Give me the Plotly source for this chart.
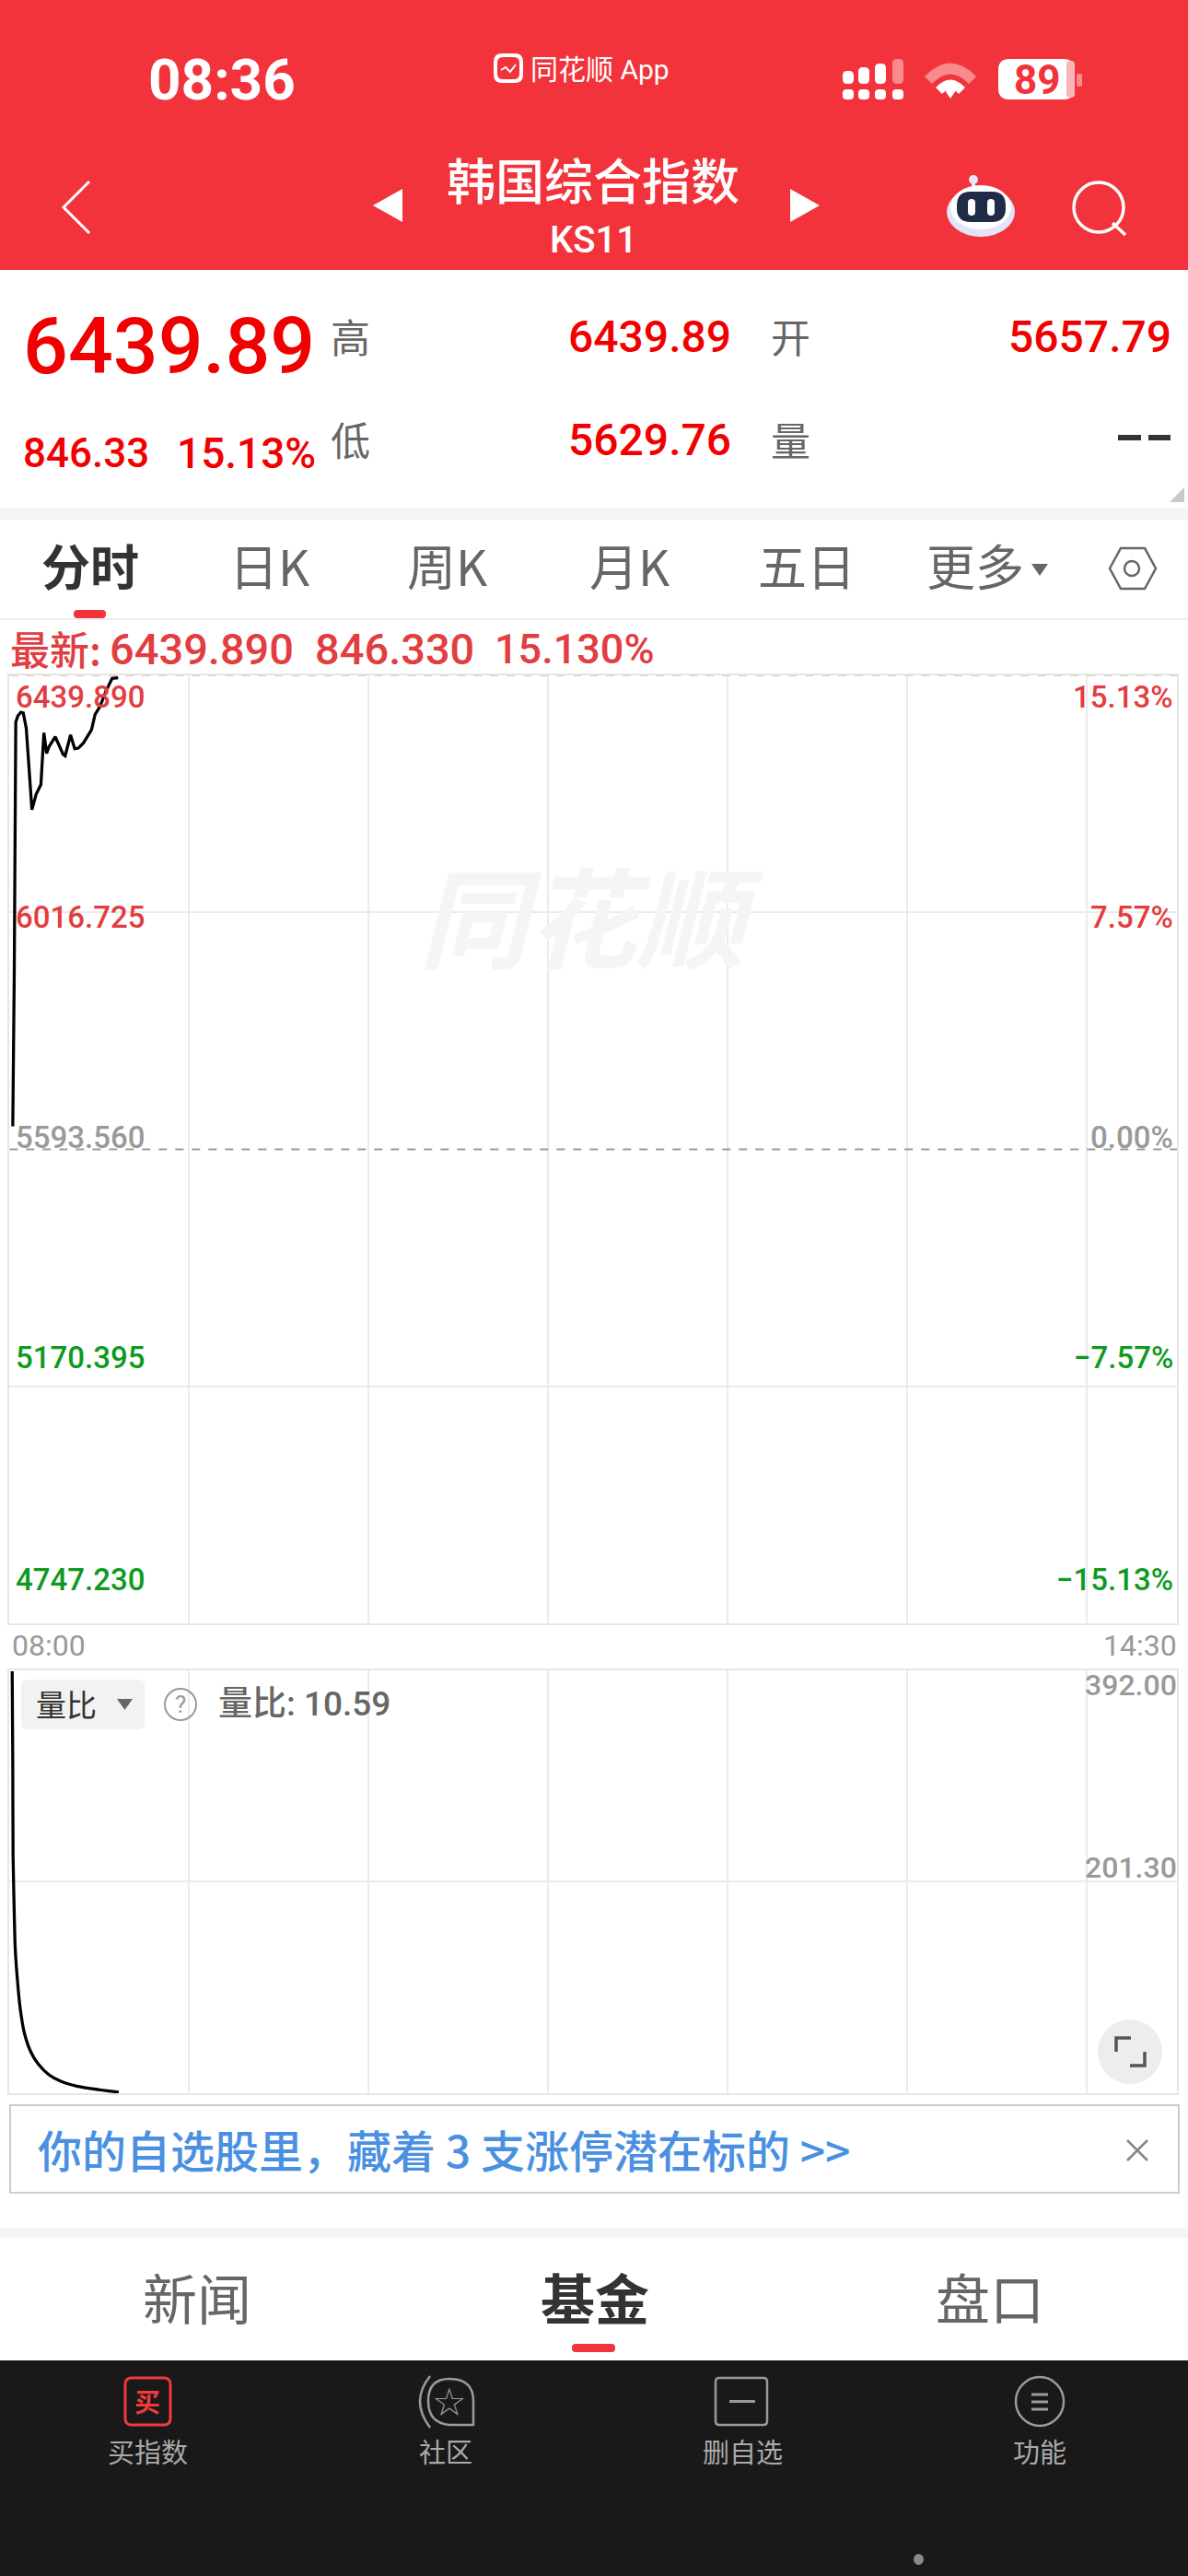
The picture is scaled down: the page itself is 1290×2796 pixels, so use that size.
import plotly.graph_objects as go

# ---- chart data ----
minute_price = [1.1, 1.6, 2.1, 2.8, 3.8, 4.6, 5.6, 6.6, 7.5, 8.9, 10.5, 11.5, 12.4, 13.2, 15.3, 17.9, 18.6, 20.4, 21.8, 23.0, 24.7, 27.4, 28.6, 30.2, 32.2, 34.3, 36.3]
price = [5634.7, 5911.9, 6356.5, 6367.4, 6374.0, 6372.9, 6345.5, 6274.1, 6200.0, 6227.5, 6245.0, 6337.2, 6300.5, 6312.5, 6330.1, 6298.8, 6296.0, 6333.4, 6308.7, 6309.8, 6319.1, 6342.7, 6370.2, 6383.9, 6411.4, 6434.4, 6435.5]
minute_ratio = [0.9, 1.1, 1.2, 1.5, 1.9, 2.6, 3.6, 5.0, 7.1, 9.6, 13.2, 17.3, 22.5, 29.7, 36.5]
ratio = [391.2, 308.1, 225.0, 183.6, 142.0, 114.4, 86.7, 64.6, 48.0, 36.9, 27.2, 21.1, 17.0, 13.9, 11.5]

price_ticks = [6439.89, 6016.725, 5593.56, 5170.395, 4747.23]
price_labels = ["6439.890", "6016.725", "5593.560", "5170.395", "4747.230"]
pct_labels = ["15.13%", "7.57%", "0.00%", "−7.57%", "−15.13%"]
ratio_ticks = [392.00, 201.30]
ratio_labels = ["392.00", "201.30"]
hour_grid = [60, 120, 180, 240, 300, 360]
time_labels = ["08:00", "14:30"]

RED = "#F2333C"
PRICE_RED = "#F00000"
TICK_RED = "#E23D40"
GREEN = "#0E9A1E"
GRAY = "#999999"
GRID = "#EBEBEB"
ROB = "Roboto, 'Noto Sans CJK SC', sans-serif"
CJK = "'Noto Sans CJK SC', sans-serif"

W, H = 1290, 2796
L, R = 10.3, 1278
M_T, M_B = 733, 1762
V_T, V_B = 1813, 2272

fig = go.Figure()
fig.add_trace(go.Scatter(x=minute_price, y=price, mode="lines", line=dict(color="#000000", width=3.3), xaxis="x", yaxis="y", hoverinfo="skip", showlegend=False))
fig.add_trace(go.Scatter(x=minute_ratio, y=ratio, mode="lines", line=dict(color="#000000", width=3.3, shape="spline", smoothing=0.6), xaxis="x2", yaxis="y2", hoverinfo="skip", showlegend=False))
fig.add_trace(go.Scatter(x=[0], y=[0], mode="none", xaxis="x3", yaxis="y3", hoverinfo="skip", showlegend=False))

common_x = dict(range=[0, 390], tickvals=hour_grid, showticklabels=False, showgrid=True, gridcolor=GRID, gridwidth=2, zeroline=False,
                showline=True, mirror=True, linecolor="#E6E6E6", linewidth=2, ticks="", fixedrange=True)
common_y = dict(showticklabels=False, showgrid=True, gridcolor=GRID, gridwidth=2, zeroline=False,
                showline=True, mirror=True, linecolor="#E6E6E6", linewidth=2, ticks="", fixedrange=True)

shapes, ann = [], []


def S(kind, x0, y0, x1, y1, fill=None, line=None, lw=0, layer="above"):
    shapes.append(dict(type=kind, xref="x3", yref="y3", x0=x0, y0=y0, x1=x1, y1=y1, fillcolor=fill,
                       line=dict(color=line or "rgba(0,0,0,0)", width=lw), layer=layer))


def P(path, fill=None, line=None, lw=0, layer="above"):
    shapes.append(dict(type="path", xref="x3", yref="y3", path=path, fillcolor=fill,
                       line=dict(color=line or "rgba(0,0,0,0)", width=lw), layer=layer))


def RR(x0, y0, x1, y1, r, fill=None, line=None, lw=0):
    P(f"M{x0+r},{y0} L{x1-r},{y0} Q{x1},{y0} {x1},{y0+r} L{x1},{y1-r} Q{x1},{y1} {x1-r},{y1} "
      f"L{x0+r},{y1} Q{x0},{y1} {x0},{y1-r} L{x0},{y0+r} Q{x0},{y0} {x0+r},{y0} Z", fill, line, lw)


def T(x, y, text, size, color, anchor="center", font=ROB, weight=400, italic=False):
    ann.append(dict(xref="x3", yref="y3", x=x, y=y, text=text, showarrow=False, xanchor=anchor, yanchor="middle", borderpad=0,
                    font=dict(size=size, color=color, family=font, weight=weight, style="italic" if italic else "normal")))


# header
S("rect", 0, 0, W, 293, RED, layer="below")
T(241, 86, "08:36", 62, "#FFFFFF", weight=700)
RR(536, 58, 568, 90, 9, "#FFFFFF")
RR(540, 62, 564, 86, 6, RED)
P("M544,76 L549,73 L554,78 L560,70", None, "#FFFFFF", 2)
T(575, 75, "同花顺 App", 30, "#FFFFFF", "left")
# signal
for cx, top, col in [(921, 77, "#FFFFFF"), (938, 73, "#FFFFFF"), (956, 69, "#FFFFFF"), (975, 64, "#F98A8E")]:
    RR(cx - 6, top, cx + 6, 91, 5, col)
for cx in [921, 938, 956, 975]:
    RR(cx - 6, 97, cx + 6, 108, 4, "#FFFFFF")
# wifi
P("M1004,83 Q1032,54 1060,83 L1052,91 Q1032,70 1012,91 Z", "#F98A8E")
P("M1016,95 Q1032,78 1048,95 L1041,102 Q1032,92 1023,102 Z", "#FFFFFF")
P("M1026,98 Q1032,93 1038,98 L1032,107 Z", "#FFFFFF")
# battery
RR(1084, 64, 1167, 108, 12, "#FFFFFF")
RR(1158, 66, 1167, 106, 4, "#F9B5B8")
RR(1169, 80, 1175, 94, 2, "#F98A8E")
T(1126, 87, "89", 44, RED, weight=700)
# nav
P("M97,197 L69,225 L97,253", None, "#FFFFFF", 3)
P("M405,223 L437,205 L437,241 Z", "#FFFFFF")
P("M890,223 L858,205 L858,241 Z", "#FFFFFF")
T(644, 194, "韩国综合指数", 53, "#FFFFFF", font=CJK, weight=500)
T(644, 260, "KS11", 40, "#FFFFFF", weight=500)
S("circle", 1052, 190, 1062, 200, "#E8E6F8")
S("rect", 1055, 198, 1059, 206, "#E8E6F8")
S("circle", 1028, 203, 1102, 257, "#E4E3F8")
S("circle", 1032, 201, 1098, 249, "#FFFFFF")
RR(1039, 208, 1092, 241, 15, "#1F2B47")
RR(1051, 216, 1059, 234, 4, "#FFFFFF")
RR(1072, 216, 1080, 234, 4, "#FFFFFF")
S("circle", 1166, 198, 1220, 252, None, "#FFFFFF", 3.5)
P("M1208,242 L1222,255", None, "#FFFFFF", 3.5)

# quote panel
T(24, 375, "6439.89", 86, PRICE_RED, "left", weight=500)
T(24, 492, "846.33", 44, PRICE_RED, "left", weight=500)
T(191, 492, "15.13%", 46, PRICE_RED, "left", weight=500)
for x, y, s in [(380, 364, "高"), (380, 476, "低"), (858, 364, "开"), (858, 476, "量")]:
    T(x, y, s, 43, "#666666", font=CJK)
T(795, 365, "6439.89", 48, PRICE_RED, "right", weight=500)
T(795, 477, "5629.76", 48, PRICE_RED, "right", weight=500)
T(1273, 365, "5657.79", 48, PRICE_RED, "right", weight=500)
S("rect", 1214, 472, 1239, 478, "#333333")
S("rect", 1247, 472, 1271, 478, "#333333")
P("M1270,545 L1286,545 L1286,529 Z", "#C8C8C8")
S("rect", 0, 551, W, 564, "#F5F5F5", layer="below")

# period tabs
T(98, 613, "分时", 53, "#333333", font=CJK, weight=700)
for x, s in [(293, "日K"), (486, "周K"), (684, "月K"), (876, "五日"), (1059, "更多")]:
    T(x, 613, s, 53, "#666666", font=CJK)
P("M1120,612 L1138,612 L1129,625 Z", "#666666")
P("M1205,617 L1217,595 L1243,595 L1255,617 L1243,639 L1217,639 Z", None, "#666666", 2.5)
S("circle", 1221, 609, 1237, 625, None, "#666666", 2.5)
RR(80, 662, 115, 671, 4, "#F2333C")
S("rect", 0, 671, W, 673, "#EDEDED", layer="below")

# latest line
T(10, 703, "最新:", 43, TICK_RED, "left", font=CJK, weight=500)
T(118, 704, "6439.890", 47, TICK_RED, "left", weight=500)
T(341, 704, "846.330", 47, TICK_RED, "left", weight=500)
T(536, 704, "15.130%", 45, TICK_RED, "left", weight=500)

# watermark
T(642, 990, "同花顺", 118, "#F5F5F5", font=CJK, weight=700, italic=True)

# price tick labels, anchored to their axis values
label_shift = [-23, -5, 13, 31, 48]
tick_cols = [TICK_RED, TICK_RED, GRAY, GREEN, GREEN]
for v, a, b, c, dy in zip(price_ticks, price_labels, pct_labels, tick_cols, label_shift):
    ann.append(dict(xref="paper", yref="y", x=15 / W, y=v, yshift=dy, text=a, showarrow=False, xanchor="left", yanchor="middle",
                    font=dict(size=33, color=c, family=ROB, weight=500)))
    ann.append(dict(xref="paper", yref="y", x=1276 / W, y=v, yshift=dy, text=b, showarrow=False, xanchor="right", yanchor="middle",
                    font=dict(size=33, color=c, family=ROB, weight=500)))
shapes.append(dict(type="line", xref="x", yref="y", x0=0, x1=390, y0=price_ticks[0], y1=price_ticks[0], line=dict(color="#D9CDB8", width=2, dash="dash"), layer="above"))
shapes.append(dict(type="line", xref="x", yref="y", x0=0, x1=390, y0=price_ticks[2], y1=price_ticks[2], line=dict(color="#9A9A9A", width=2, dash="dash"), layer="above"))

T(12, 1786, time_labels[0], 32, GRAY, "left")
T(1279, 1786, time_labels[1], 32, GRAY, "right")
for v, s, dy in zip(ratio_ticks, ratio_labels, [-16, 15]):
    ann.append(dict(xref="paper", yref="y2", x=1280 / W, y=v, yshift=dy, text=s, showarrow=False, xanchor="right", yanchor="middle",
                    font=dict(size=32, color=GRAY, family=ROB, weight=500)))

# ratio controls
RR(23, 1823, 157, 1877, 7, "#F2F2F2")
T(72, 1849, "量比", 33, "#333333", font=CJK)
P("M127,1844 L144,1844 L135.5,1856 Z", "#666666")
S("circle", 179, 1833, 213, 1867, None, "#999999", 2)
T(196, 1850, "?", 26, "#999999")
T(236, 1849, "量比: 10.59", 37, "#666666", "left", weight=500)
S("circle", 1192, 2192, 1262, 2262, "#EDEDED")
P("M1212,2227 L1212,2212 L1228,2212", None, "#555555", 3.5)
P("M1243,2227 L1243,2242 L1227,2242", None, "#555555", 3.5)

# banner
S("rect", 11, 2285, 1280, 2380, "#FFFFFF", "#BDBDBD", 1.5)
T(40, 2332, "你的自选股里，藏着 3 支涨停潜在标的 >>", 48, "#4A90E2", "left", font=CJK, weight=500)
P("M1224,2323 L1246,2345 M1246,2323 L1224,2345", None, "#888888", 2.5)
S("rect", 0, 2418, W, 2429, "#F5F5F5", layer="below")

# lower tabs
T(214, 2492, "新闻", 59, "#666666", font=CJK)
T(646, 2492, "基金", 59, "#333333", font=CJK, weight=700)
T(1075, 2492, "盘口", 59, "#666666", font=CJK)
RR(621, 2544, 668, 2553, 4, "#F2333C")

# footer
S("rect", 0, 2562, W, H, "#191919")
RR(136, 2581, 185, 2632, 7, None, "#F03A3E", 3)
T(160, 2606, "买", 28, "#F03A3E", font=CJK, weight=700)
T(160, 2660, "买指数", 29, "#AAAAAA", font=CJK)
P("M467,2579 Q445,2606 467,2635", None, "#9A9A9A", 2.5)
P("M514,2632 L488,2632 Q465,2630 465,2606 Q465,2582 488,2582 Q514,2582 514,2606 Z", None, "#9A9A9A", 2.5)
T(488, 2607, "☆", 42, "#9A9A9A", font="'DejaVu Sans'")
T(484, 2660, "社区", 29, "#AAAAAA", font=CJK)
RR(777, 2581, 833, 2632, 4, None, "#9A9A9A", 2.5)
S("rect", 792, 2605, 820, 2608, "#9A9A9A")
T(806, 2660, "删自选", 29, "#AAAAAA", font=CJK)
S("circle", 1103, 2580, 1155, 2633, None, "#9A9A9A", 2.5)
for y in [2599, 2607, 2615]:
    S("rect", 1120, y - 1.5, 1138, y + 1.5, "#9A9A9A")
T(1129, 2660, "功能", 29, "#AAAAAA", font=CJK)
S("circle", 992, 2772, 1003, 2784, "#8A8A8A")

fig.update_layout(
    width=W, height=H, autosize=False, margin=dict(l=0, r=0, t=0, b=0), paper_bgcolor="#FFFFFF", plot_bgcolor="rgba(0,0,0,0)",
    showlegend=False,
    xaxis=dict(common_x, domain=[L / W, R / W], anchor="y"),
    yaxis=dict(common_y, domain=[1 - M_B / H, 1 - M_T / H], range=[price_ticks[4], price_ticks[0]], tickvals=[price_ticks[1], price_ticks[3]], anchor="x"),
    xaxis2=dict(common_x, domain=[L / W, R / W], anchor="y2"),
    yaxis2=dict(common_y, domain=[1 - V_B / H, 1 - V_T / H], range=[10.59, 392.0], tickvals=[ratio_ticks[1]], anchor="x2"),
    xaxis3=dict(domain=[0, 1], range=[0, W], visible=False, anchor="y3", fixedrange=True),
    yaxis3=dict(domain=[0, 1], range=[H, 0], visible=False, anchor="x3", fixedrange=True),
    shapes=shapes, annotations=ann,
)
fig.write_html("out.html", config={"displayModeBar": False}, post_script="document.body.style.margin='0';")
